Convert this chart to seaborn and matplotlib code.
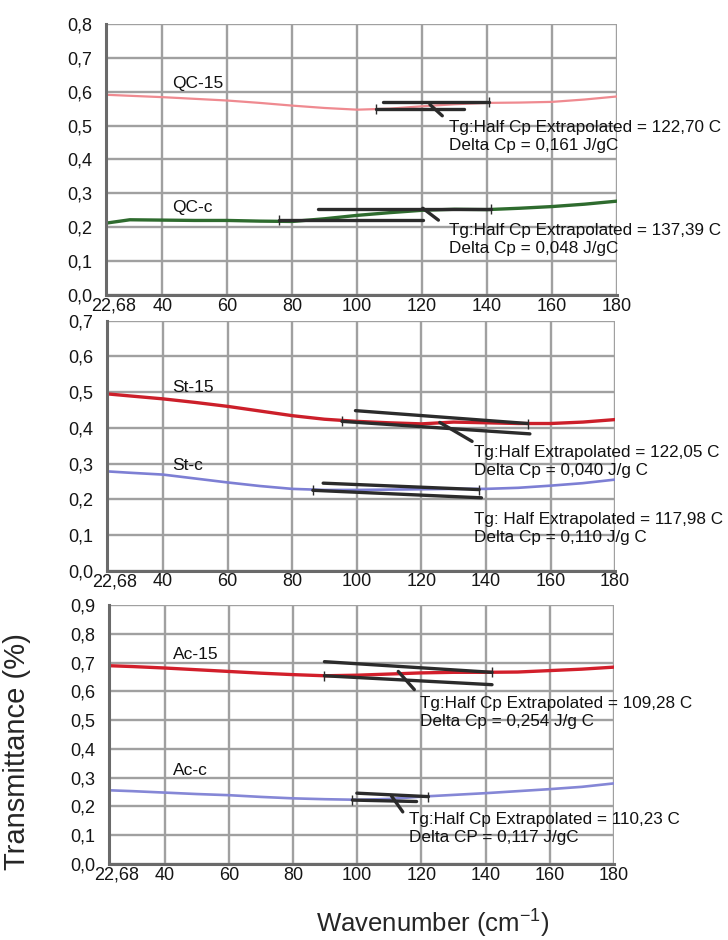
import numpy as np
import pandas as pd
import seaborn as sns
import matplotlib.pyplot as plt
import matplotlib.transforms as mtransforms

# wavenumber axis shared by all curves
wn = [22.68, 30, 40, 50, 60, 70, 80, 90, 100, 110, 120, 130, 140, 150, 160, 170, 180]

qc15 = [0.591, 0.588, 0.584, 0.579, 0.574, 0.567, 0.559, 0.552, 0.547, 0.550, 0.557, 0.563, 0.567, 0.568, 0.570, 0.577, 0.586]
qcc = [0.212, 0.222, 0.221, 0.220, 0.220, 0.218, 0.217, 0.225, 0.235, 0.243, 0.250, 0.253, 0.252, 0.256, 0.261, 0.268, 0.277]
st15 = [0.495, 0.489, 0.481, 0.471, 0.460, 0.447, 0.434, 0.424, 0.418, 0.414, 0.411, 0.416, 0.414, 0.412, 0.412, 0.416, 0.423]
stc = [0.278, 0.274, 0.269, 0.258, 0.247, 0.237, 0.229, 0.226, 0.226, 0.227, 0.228, 0.229, 0.229, 0.232, 0.238, 0.245, 0.255]
ac15 = [0.689, 0.686, 0.681, 0.675, 0.669, 0.663, 0.658, 0.654, 0.656, 0.660, 0.664, 0.666, 0.666, 0.667, 0.672, 0.677, 0.684]
acc = [0.256, 0.253, 0.248, 0.243, 0.239, 0.233, 0.228, 0.225, 0.223, 0.226, 0.234, 0.240, 0.246, 0.253, 0.260, 0.268, 0.280]

# tangent construction lines (x pairs, y pairs)
tan_qc15_x = [[108, 140.7], [105.7, 133], [122.4, 126.2]]
tan_qc15_y = [[0.570, 0.570], [0.549, 0.549], [0.562, 0.529]]
tan_qcc_x = [[87.8, 141.1], [75.9, 120.2], [120.2, 125]]
tan_qcc_y = [[0.253, 0.253], [0.220, 0.220], [0.256, 0.221]]
tan_st15_x = [[99.6, 152.9], [95.4, 153.6], [125.7, 135.7]]
tan_st15_y = [[0.448, 0.412], [0.418, 0.383], [0.415, 0.362]]
tan_stc_x = [[89.6, 137.9], [86.4, 138.6]]
tan_stc_y = [[0.245, 0.227], [0.225, 0.204]]
tan_ac15_x = [[89.8, 142], [89.8, 142], [112.8, 117.8]]
tan_ac15_y = [[0.703, 0.666], [0.654, 0.623], [0.669, 0.606]]
tan_acc_x = [[99.9, 122.2], [98.5, 118.5], [110.7, 114.2]]
tan_acc_y = [[0.246, 0.234], [0.222, 0.217], [0.236, 0.181]]

xticks = [22.68, 40, 60, 80, 100, 120, 140, 160, 180]
xticklabels = ['22,68', '40', '60', '80', '100', '120', '140', '160', '180']

sns.set_style('white')
plt.rcParams['font.family'] = ['Liberation Sans', 'DejaVu Sans']
plt.rcParams['mathtext.fontset'] = 'custom'
plt.rcParams['mathtext.rm'] = 'Liberation Sans'

fig = plt.figure(figsize=(7.28, 9.40), dpi=100)

panels = [
    dict(rect=[0.1456, 0.6862, 0.702, 0.2883], ymax=0.8,
         curves=[('QC-15', qc15, '#ef8a90', 1.6), ('QC-c', qcc, '#2e6b2e', 2.4)],
         labels=[('QC-15', 43, 0.624), ('QC-c', 43, 0.259)],
         tans=[(tan_qc15_x, tan_qc15_y), (tan_qcc_x, tan_qcc_y)],
         notes=[(128.3, 0.495, 'Tg:Half Cp Extrapolated = 122,70 C'),
                (128.3, 0.442, 'Delta Cp = 0,161 J/gC'),
                (128.3, 0.189, 'Tg:Half Cp Extrapolated = 137,39 C'),
                (128.3, 0.137, 'Delta Cp = 0,048 J/gC')]),
    dict(rect=[0.147, 0.3929, 0.698, 0.266], ymax=0.7,
         curves=[('St-15', st15, '#cc1f2a', 2.4), ('St-c', stc, '#7d7fd4', 1.9)],
         labels=[('St-15', 43, 0.514), ('St-c', 43, 0.295)],
         tans=[(tan_st15_x, tan_st15_y), (tan_stc_x, tan_stc_y)],
         notes=[(136.4, 0.330, 'Tg:Half Extrapolated = 122,05 C'),
                (136.4, 0.281, 'Delta Cp = 0,040 J/g C'),
                (136.4, 0.143, 'Tg: Half Extrapolated = 117,98 C'),
                (136.4, 0.094, 'Delta Cp = 0,110 J/g C')]),
    dict(rect=[0.1497, 0.0809, 0.6937, 0.2755], ymax=0.9,
         curves=[('Ac-15', ac15, '#d21f2b', 2.4), ('Ac-c', acc, '#8587d6', 1.9)],
         labels=[('Ac-15', 42.5, 0.727), ('Ac-c', 42.5, 0.325)],
         tans=[(tan_ac15_x, tan_ac15_y), (tan_acc_x, tan_acc_y)],
         notes=[(119.7, 0.556, 'Tg:Half Cp Extrapolated = 109,28 C'),
                (119.7, 0.496, 'Delta Cp = 0,254 J/g C'),
                (116.1, 0.156, 'Tg:Half Cp Extrapolated = 110,23 C'),
                (116.1, 0.092, 'Delta CP = 0,117 J/gC')]),
]

for p in panels:
    ax = fig.add_axes(p['rect'])
    for name, vals, col, lw in p['curves']:
        df = pd.DataFrame({'wn': wn, 'T': vals})
        sns.lineplot(data=df, x='wn', y='T', color=col, linewidth=lw, ax=ax)
    for tx, ty in p['tans']:
        for i, (xs, ys) in enumerate(zip(tx, ty)):
            mk = '|' if i < 2 else None
            ax.plot(xs, ys, color='#2b2b2b', linewidth=2.4, marker=mk,
                    markevery=[1 - i] if i < 2 else None, markersize=7, zorder=5)
    for text, x, y in p['labels']:
        ax.text(x, y, text, fontsize=12.5, va='center', ha='left', color='#111111')
    for x, y, text in p['notes']:
        ax.text(x, y, text, fontsize=12.3, va='center', ha='left', color='#111111', clip_on=False)
    yt = np.round(np.arange(0, p['ymax'] + 0.001, 0.1), 1)
    ax.set_ylim(0, p['ymax'])
    ax.set_xlim(22.68, 180)
    ax.set_yticks(yt)
    ax.set_yticklabels([f'{v:.1f}'.replace('.', ',') for v in yt])
    ax.set_xticks(xticks)
    ax.set_xticklabels(xticklabels)
    ax.grid(True, color='#a0a0a0', linewidth=1.7)
    ax.set_axisbelow(True)
    for s in ['top', 'right']:
        ax.spines[s].set_visible(False)
    for s in ['left', 'bottom']:
        ax.spines[s].set_color('#6a6a6a')
        ax.spines[s].set_linewidth(2.2)
    ax.tick_params(axis='both', labelsize=13, length=0, colors='#151515')
    ax.tick_params(axis='y', pad=10)
    ax.tick_params(axis='x', pad=2)
    # first tick label sits a bit to the right of the axis start
    lab0 = ax.get_xticklabels()[0]
    lab0.set_transform(lab0.get_transform() + mtransforms.ScaledTranslation(8 / 100, 0, fig.dpi_scale_trans))
    ax.set_xlabel('')
    ax.set_ylabel('')

fig.text(0.024, 0.200, 'Transmittance (%)', rotation=90, fontsize=21, va='center', ha='center')
fig.text(0.595, 0.019, 'Wavenumber (cm$^{-1}$)', fontsize=18.5, va='center', ha='center')

fig.savefig('out.png', dpi=100)
